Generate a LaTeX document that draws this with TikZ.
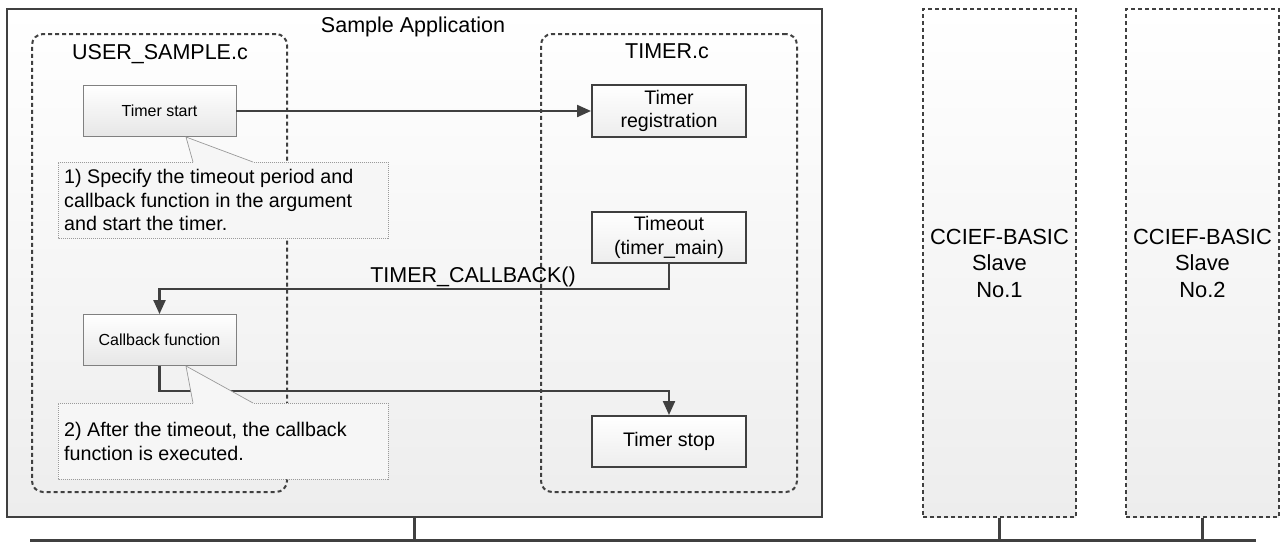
\documentclass[tikz,border=0pt]{standalone}
\usepackage{fontspec}
\setmainfont{Liberation Sans}
\usetikzlibrary{arrows.meta}
\definecolor{ink}{HTML}{404040}
\definecolor{shadelow}{HTML}{EDEDED}
\definecolor{boxlow}{HTML}{E6E6E6}
\definecolor{notefill}{HTML}{F6F6F6}
\definecolor{noteline}{HTML}{9A9A9A}
\definecolor{thinline}{HTML}{808080}
\tikzset{
  appframe/.style={draw=ink, line width=2.4pt, top color=white, bottom color=shadelow, inner sep=0pt},
  slavebox/.style={draw=ink, line width=2pt, dash pattern=on 4pt off 3pt, top color=white, bottom color=shadelow,
    minimum width=153pt, minimum height=508pt, align=center, inner sep=0pt,
    font=\fontsize{21.9}{26.5}\selectfont},
  group/.style={draw=ink, line width=2pt, dash pattern=on 4pt off 3pt, rounded corners=11pt, inner sep=0pt},
  grouptitle/.style={anchor=base, inner sep=0pt, font=\fontsize{21.5}{25}\selectfont},
  thinbox/.style={draw=thinline, line width=0.9pt, top color=white, bottom color=boxlow,
    minimum width=153pt, minimum height=51pt, inner sep=0pt, font=\fontsize{16}{19}\selectfont},
  thickbox/.style={draw=ink, line width=2pt, top color=white, bottom color=shadelow,
    minimum width=154pt, minimum height=51pt, inner sep=0pt, align=center,
    font=\fontsize{19.6}{23.5}\selectfont},
  conn/.style={draw=ink, line width=2.2pt},
  flow/.style={conn, -{Triangle[length=14pt,width=12pt]}},
  bus/.style={draw=ink, line width=3pt},
  notebody/.style={fill=notefill, draw=none},
  noteedge/.style={draw=noteline, line width=0.7pt, dash pattern=on 1pt off 1pt},
  notetip/.style={draw=noteline, line width=0.7pt},
  notetext/.style={anchor=west, align=left, inner sep=0pt, font=\fontsize{19.7}{23.3}\selectfont},
}
\begin{document}
\begin{tikzpicture}[x=1pt,y=-1pt]
\useasboundingbox (0,0) rectangle (1282,542);

% application frame and its title
\node[appframe, minimum width=815pt, minimum height=508pt] (app) at (414.5,263) {};
\node[grouptitle] (apptitle) at (413,32) {Sample Application};

% slave stations
\node[slavebox] (s1) at (999.5,263) {CCIEF-BASIC\\Slave\\No.1};
\node[slavebox] (s2) at (1202.5,263) {CCIEF-BASIC\\Slave\\No.2};

% network bus
\coordinate (busL) at (30,540);
\coordinate (busR) at (1256,540);
\draw[bus] (busL) -- (busR);
\draw[bus] (app.south) -- (app.south |- busL);
\draw[bus] (s1.south) -- (s1.south |- busL);
\draw[bus] (s2.south) -- (s2.south |- busL);

% processing steps
\node[thinbox] (start) at (159.5,111) {Timer start};
\node[thinbox] (cb) at (159.5,340) {Callback function};
\node[thickbox, minimum height=52pt] (reg) at (669,111) {Timer\\registration};
\node[thickbox] (tout) at (669,237.5) {Timeout\\(timer\_main)};
\node[thickbox] (stop) at (669,441.5) {Timer stop};

% connectors
\coordinate (cbrow) at (0,289);
\coordinate (stoprow) at (0,391);
\draw[flow] (start.east) -- (reg.west);
\draw[flow] (tout.south) -- (tout.south |- cbrow) -| (cb.north);
\draw[flow] (cb.south) -- (cb.south |- stoprow) -| (stop.north);
\node[grouptitle] (cblabel) at (473,282) {TIMER\_CALLBACK()};

% source file groups
\node[group, minimum width=255pt, minimum height=458pt] (user) at (159.5,263) {};
\node[grouptitle] (usertitle) at (160,59) {USER\_SAMPLE.c};
\node[group, minimum width=256pt, minimum height=458pt] (timer) at (669,263) {};
\node[grouptitle] (timertitle) at (667,58) {TIMER.c};

% note 1
\coordinate (tipA) at (186,137);
\fill[notebody] (58,162) -- (193,162) -- (tipA) -- (253,162) -- (388,162) -- (388,238) -- (58,238) -- cycle;
\draw[noteedge] (193,162) -- (58,162) -- (58,238) -- (388,238) -- (388,162) -- (253,162);
\draw[notetip] (193,162) -- (tipA) -- (253,162);
\node[notetext] (noteA) at (64,200) {1) Specify the timeout period and\\callback function in the argument\\and start the timer.};

% note 2
\coordinate (tipB) at (186,366);
\fill[notebody] (58,403) -- (193,403) -- (tipB) -- (253,403) -- (388,403) -- (388,479) -- (58,479) -- cycle;
\draw[noteedge] (193,403) -- (58,403) -- (58,479) -- (388,479) -- (388,403) -- (253,403);
\draw[notetip] (193,403) -- (tipB) -- (253,403);
\node[notetext] (noteB) at (64,441.5) {2) After the timeout, the callback\\function is executed.};
\end{tikzpicture}
\end{document}
